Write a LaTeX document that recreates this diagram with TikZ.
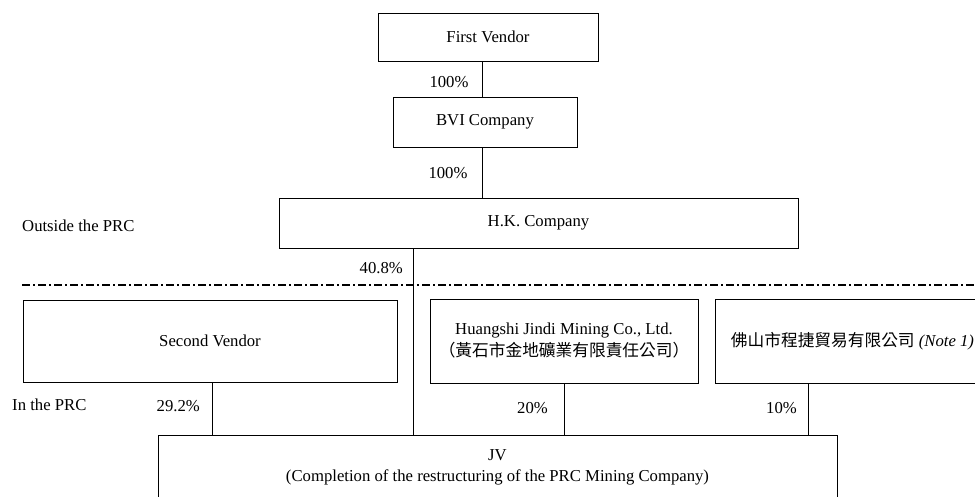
\documentclass[tikz,border=0pt]{standalone}
\usepackage{fontspec}
\setmainfont{Liberation Serif}
\newfontfamily\cjk[Scale=1.0]{Noto Sans CJK TC}
\usetikzlibrary{positioning}
\tikzset{
    entity/.style={draw, line width=1pt, inner sep=0pt, align=center, font=\fontsize{16.7}{21}\selectfont},
    share/.style={inner sep=0pt, font=\fontsize{16.7}{20}\selectfont},
    tie/.style={line width=1pt},
}
\begin{document}
\begin{tikzpicture}[x=1pt,y=-1pt]
        \useasboundingbox (0,0) rectangle (975,496);
        \clip (0,0) rectangle (975,496);

        % coordinates
        \coordinate (top) at (482,0);
        \coordinate (mid) at (413,0);
        \coordinate (sv1) at (212,0);
        \coordinate (fs1) at (808,0);

        % entities
        \node[entity, minimum width=220pt, minimum height=48pt] (fv) at (488,37) {First Vendor};
        \node[entity, minimum width=184pt, minimum height=50pt] (bvi) at (485,122) {BVI Company};
        \node[entity, minimum width=519pt, minimum height=50pt] (hk) at (538.5,223) {H.K. Company};
        \node[entity, minimum width=374pt, minimum height=82pt] (sv) at (210,341) {\raisebox{-5pt}{Second Vendor}};
        \node[entity, minimum width=268pt, minimum height=84pt] (hj) at (564,341)
            {Huangshi Jindi Mining Co., Ltd.\\[1pt]{\cjk （黃石市金地礦業有限責任公司）}};
        \node[entity, minimum width=275pt, minimum height=84pt] (fs) at (852.5,341)
            {{\cjk 佛山市程捷貿易有限公司} \textit{(Note 1)}};
        \node[entity, minimum width=679pt, minimum height=64pt] (jv) at (497.5,467)
            {JV\\(Completion of the restructuring of the PRC Mining Company)};

        % boundary
        \coordinate (bl) at (22,285);
        \coordinate (br) at (975,285);
        \draw[line width=2pt, dash pattern=on 8pt off 3pt on 2pt off 3pt] (bl) -- (br);

        % ties
        \draw[tie] (fv.south -| top) -- (bvi.north -| top);
        \draw[tie] (bvi.south -| top) -- (hk.north -| top);
        \draw[tie] (hk.south -| mid) -- (jv.north -| mid);
        \draw[tie] (sv.south -| sv1) -- (jv.north -| sv1);
        \draw[tie] (hj.south) -- (jv.north -| hj.south);
        \draw[tie] (fs.south -| fs1) -- (jv.north -| fs1);

        % Text
        \node[share] (p1) at (449,82) {100\%};
        \node[share] (p2) at (448,173) {100\%};
        \node[share, anchor=east] (p3) at (403,268) {40.8\%};
        \node[share, anchor=east] (p4) at (200,406) {29.2\%};
        \node[share, anchor=east] (p5) at (548,408) {20\%};
        \node[share, anchor=east] (p6) at (797,408) {10\%};

        % Text
        \node[share, anchor=west] (out) at (22,226) {Outside the PRC};
        \node[share, anchor=west] (in) at (12,405) {In the PRC};

\end{tikzpicture}
\end{document}
